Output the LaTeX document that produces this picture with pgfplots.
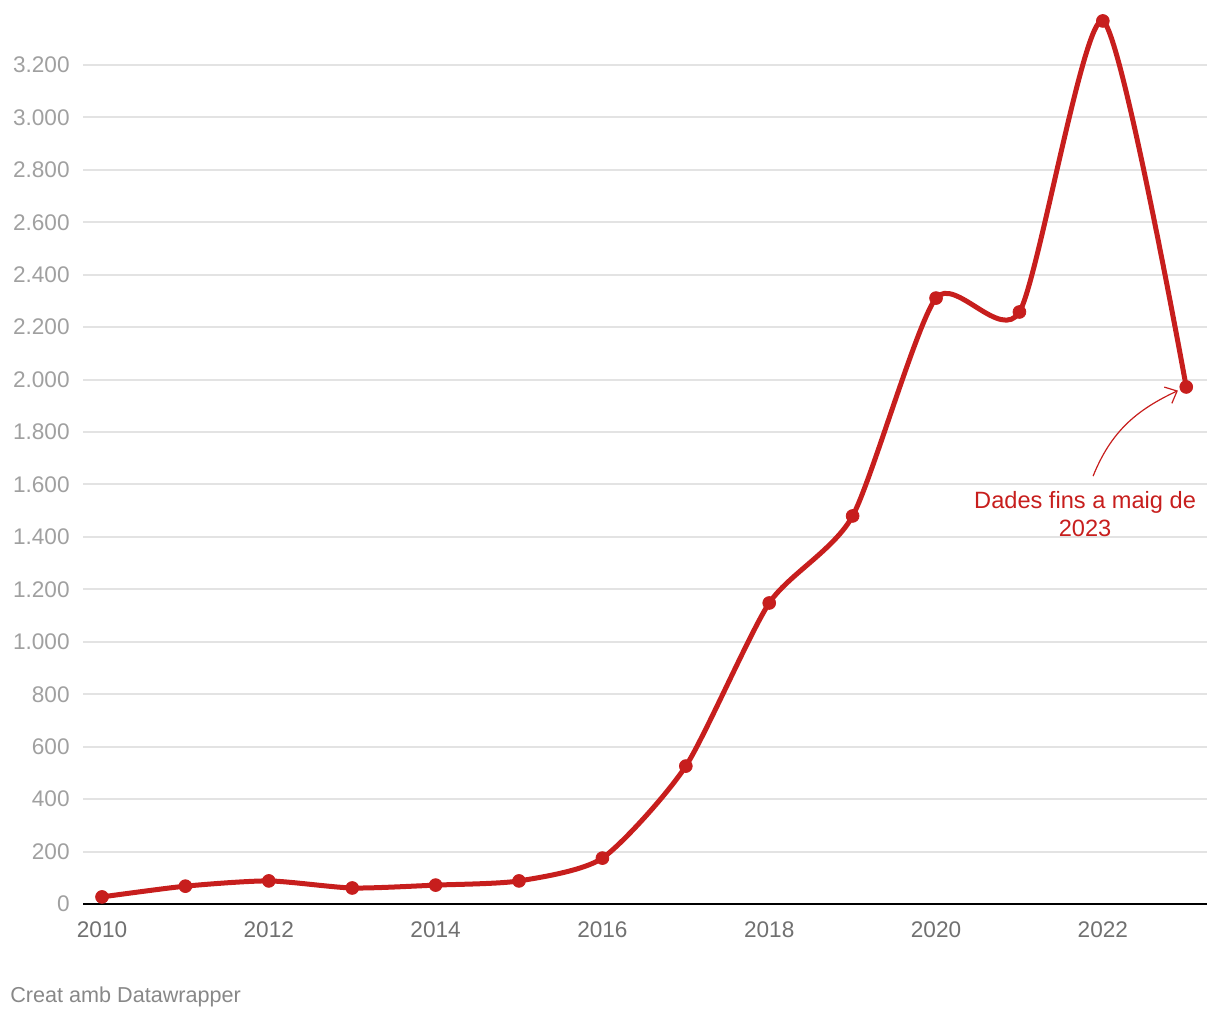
\documentclass[border=0pt]{standalone}
\usepackage{fontspec}
\setmainfont{Liberation Sans}
\usepackage{pgfplots}
\pgfplotsset{compat=1.18}
\usetikzlibrary{arrows.meta}
\definecolor{dwred}{HTML}{C71E1D}
\definecolor{gridgray}{HTML}{E3E3E3}
\definecolor{ylab}{HTML}{A0A0A0}
\definecolor{xlab}{HTML}{707070}
\definecolor{foot}{HTML}{888888}
\begin{document}
\begin{tikzpicture}
\useasboundingbox (-41.5pt,-58pt) rectangle (568.5pt,452pt);
\begin{axis}[
  at={(0,0)}, anchor=south west,
  scale only axis,
  width=562pt, height=445.72pt,
  xmin=2009.772, xmax=2023.249,
  ymin=0, ymax=3400,
  clip=false,
  axis x line*=bottom, axis y line*=left,
  x axis line style={black, line width=1pt, -},
  y axis line style={draw=none},
  major tick length=0pt,
  xtick={2010,2012,...,2022},
  ytick={0,200,...,3200},
  ymajorgrids,
  grid style={gridgray, line width=1pt},
  font=\fontsize{11.3}{13.5}\selectfont,
  xticklabel style={/pgf/number format/.cd, 1000 sep={}, assume math mode=true, /tikz/.cd,
    anchor=north, inner sep=0pt, yshift=-8.5pt, text=xlab},
  yticklabel style={/pgf/number format/.cd, 1000 sep={.}, assume math mode=true, /tikz/.cd,
    anchor=east, inner sep=0pt, xshift=-6.5pt, text=ylab},
]
\addplot[dwred, line width=2.5pt, smooth, tension=0.4, mark=*, mark size=3.2pt,
  mark options={solid, line width=0.4pt, fill=dwred}]
  coordinates {
  (2010,27) (2011,68) (2012,88) (2013,61) (2014,72) (2015,88)
  (2016,175) (2017,526) (2018,1148) (2019,1480) (2020,2311)
  (2021,2258) (2022,3368) (2023,1972)
  };
\node[text=dwred, align=center, font=\fontsize{11.8}{14}\selectfont, anchor=center]
  at (axis cs:2021.787,1487) {Dades fins a maig de\\2023};
\draw[dwred, line width=0.6pt, -{Straight Barb[length=5pt,width=9pt]}]
  (axis cs:2021.883,1632) to[out=68, in=205] (axis cs:2022.90,1958);
\end{axis}
\node[anchor=west, text=foot, inner sep=0pt, font=\fontsize{10.8}{13}\selectfont] at (-36.5pt,-46.5pt) {Creat amb Datawrapper};
\end{tikzpicture}
\end{document}
